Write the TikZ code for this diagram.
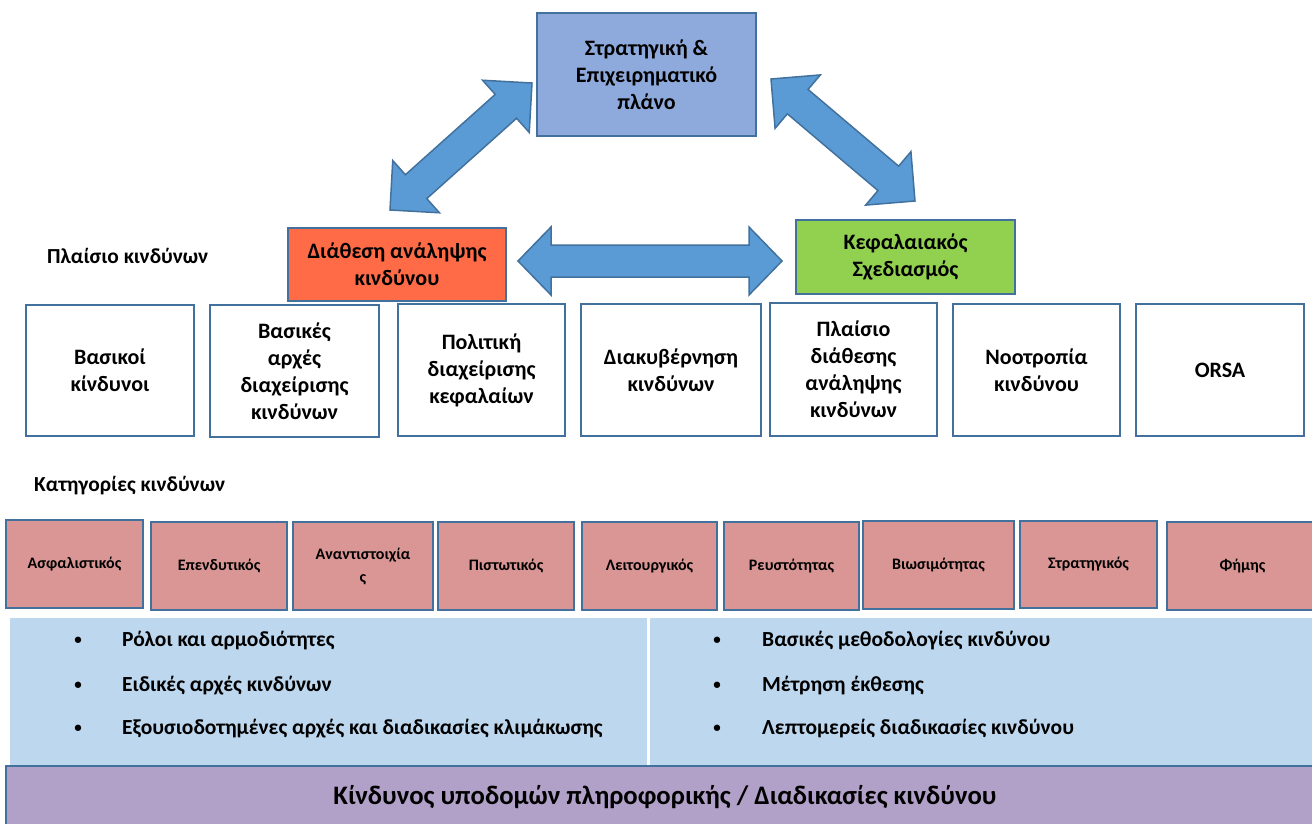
\documentclass[tikz,border=0pt]{standalone}
\usepackage{fontspec}
\setmainfont{Carlito}
\usetikzlibrary{calc}
\definecolor{bordc}{HTML}{41719C}
\definecolor{topblue}{HTML}{8EA9DB}
\definecolor{orangec}{HTML}{FF6A47}
\definecolor{greenc}{HTML}{92D050}
\definecolor{arrowc}{HTML}{5B9BD5}
\definecolor{pinkc}{HTML}{D99694}
\definecolor{panelc}{HTML}{BDD7EE}
\definecolor{purplec}{HTML}{B1A0C7}
\tikzset{
  framebox/.style={draw=bordc, line width=2pt, fill=white, align=center, inner sep=0pt,
    font=\bfseries\fontsize{22}{27}\selectfont},
  topbox/.style={framebox, fill=topblue},
  orangebox/.style={framebox, fill=orangec},
  greenbox/.style={framebox, fill=greenc},
  catbox/.style={draw=bordc, line width=2.6pt, fill=pinkc, align=center, inner sep=0pt,
    font=\bfseries\fontsize{16}{23}\selectfont},
  lbl/.style={anchor=west, inner sep=0pt, font=\bfseries\fontsize{21.4}{25}\selectfont},
  bul/.style={anchor=west, inner sep=0pt, font=\bfseries\fontsize{21.5}{25}\selectfont},
  dot/.style={inner sep=0pt, font=\bfseries\fontsize{15}{18}\selectfont},
  fat/.style={draw=bordc, line width=1.5pt, fill=arrowc, line join=miter},
}
\newcommand{\BX}[7]{\node[#2, minimum width={#5-#3}, minimum height={#6-#4}] (#1) at ({(#3+#5)/2},{(#4+#6)/2}) {#7};}
\newcommand{\fatarrow}[5]{% tipA, tipB, head length, head half width, shaft half width
  \coordinate (hA) at ($(#1)!#3!(#2)$);
  \coordinate (hB) at ($(#2)!#3!(#1)$);
  \draw[fat] (#1) -- ($(hA)!#4!90:(#2)$) -- ($(hA)!#5!90:(#2)$) -- ($(hB)!#5!-90:(#1)$)
    -- ($(hB)!#4!-90:(#1)$) -- (#2) -- ($(hB)!#4!90:(#1)$) -- ($(hB)!#5!90:(#1)$)
    -- ($(hA)!#5!-90:(#2)$) -- ($(hA)!#4!-90:(#2)$) -- cycle;
}
\begin{document}
\begin{tikzpicture}[x=1pt,y=-1pt]
\useasboundingbox (0,0) rectangle (1312,823);
\fill[white] (0,0) rectangle (1312,823);

% top level
\BX{plan}{topbox}{537}{13}{756}{136}{Στρατηγική \&\\Επιχειρηματικό\\πλάνο}
\BX{appetite}{orangebox}{288}{228}{506}{301}{Διάθεση ανάληψης\\κινδύνου}
\BX{capital}{greenbox}{796}{220}{1015}{294}{Κεφαλαιακός\\Σχεδιασμός}

% arrows
\coordinate (a1) at (518,261);
\coordinate (a2) at (782,261);
\coordinate (l1) at (390,210);
\coordinate (l2) at (532,83);
\coordinate (r1) at (771,79);
\coordinate (r2) at (915,201);
\fatarrow{a1}{a2}{33pt}{34pt}{16pt}
\fatarrow{l1}{l2}{35pt}{35pt}{16pt}
\fatarrow{r1}{r2}{35pt}{35pt}{16pt}

% labels
\node[lbl] (framelbl) at (47,256) {Πλαίσιο κινδύνων};
\node[lbl] (catlbl) at (34,486) {Κατηγορίες κινδύνων};

% framework boxes
\BX{f1}{framebox}{26}{305}{194}{436}{Βασικοί\\κίνδυνοι}
\BX{f2}{framebox}{210}{305}{379}{437}{Βασικές\\αρχές\\διαχείρισης\\κινδύνων}
\BX{f3}{framebox}{398}{304}{565}{436}{Πολιτική\\διαχείρισης\\κεφαλαίων}
\BX{f4}{framebox}{581}{304}{761}{436}{Διακυβέρνηση\\κινδύνων}
\BX{f5}{framebox}{770}{303}{937}{436}{Πλαίσιο\\διάθεσης\\ανάληψης\\κινδύνων}
\BX{f6}{framebox}{953}{304}{1120}{436}{Νοοτροπία\\κινδύνου}
\BX{f7}{framebox}{1136}{304}{1304}{436}{ORSA}

% categories
\BX{c1}{catbox}{6}{520}{143}{608}{Ασφαλιστικός}
\BX{c2}{catbox}{151}{522}{287}{610}{Επενδυτικός}
\BX{c3}{catbox}{293}{522}{433}{610}{Αναντιστοιχία\\ς}
\BX{c4}{catbox}{438}{522}{574}{610}{Πιστωτικός}
\BX{c5}{catbox}{582}{522}{717}{610}{Λειτουργικός}
\BX{c6}{catbox}{724}{522}{859}{610}{Ρευστότητας}
\BX{c7}{catbox}{863}{521}{1014}{609}{Βιωσιμότητας}
\BX{c8}{catbox}{1020}{521}{1157}{608}{Στρατηγικός}
\BX{c9}{catbox}{1167}{522}{1318}{610}{Φήμης}

% panel
\fill[panelc] (10,618) rectangle (1312,765);
\draw[white, line width=3pt] (648,618) -- (648,765);
\node[dot] (b1) at (78,641) {•};
\node[bul] (t1) at (122,641) {Ρόλοι και αρμοδιότητες};
\node[dot] (b2) at (78,686) {•};
\node[bul] (t2) at (122,686) {Ειδικές αρχές κινδύνων};
\node[dot] (b3) at (78,729) {•};
\node[bul] (t3) at (122,729) {Εξουσιοδοτημένες αρχές και διαδικασίες κλιμάκωσης};
\node[dot] (b4) at (717,641) {•};
\node[bul] (t4) at (762,641) {Βασικές μεθοδολογίες κινδύνου};
\node[dot] (b5) at (717,686) {•};
\node[bul] (t5) at (762,686) {Μέτρηση έκθεσης};
\node[dot] (b6) at (717,729) {•};
\node[bul] (t6) at (762,729) {Λεπτομερείς διαδικασίες κινδύνου};

% bottom band
\draw[draw=bordc, line width=2pt, fill=purplec] (6,766) rectangle (1316,827);
\node[font=\bfseries\fontsize{26.7}{30}\selectfont, inner sep=0pt] (infra) at (665,797) {Κίνδυνος υποδομών πληροφορικής / Διαδικασίες κινδύνου};
\end{tikzpicture}
\end{document}
